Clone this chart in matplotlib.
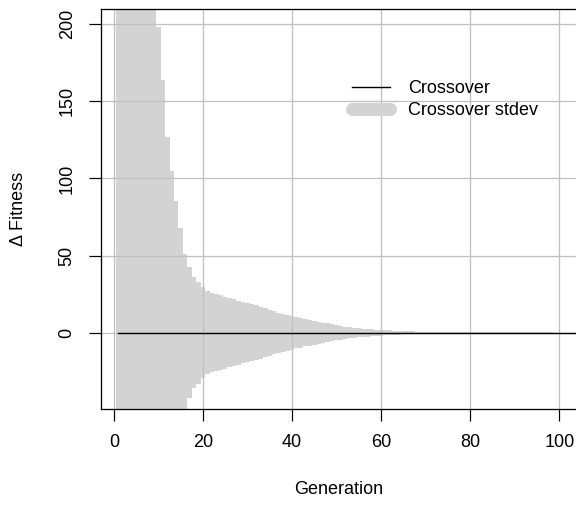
import matplotlib
matplotlib.use("Agg")
import matplotlib.pyplot as plt
from matplotlib.lines import Line2D
import numpy as np

plt.rcParams['font.family'] = ['Liberation Sans', 'DejaVu Sans']

# generations 1..104 (the run goes a little past the 100 shown)
generations = list(range(1, 105))

# mean delta fitness of crossover (flat at zero)
crossover_mean = [
    0.0, 0.0, 0.0, 0.0, 0.0, 0.0, 0.0, 0.0, 0.0, 0.0, 0.0, 0.0, 0.0,
    0.0, 0.0, 0.0, 0.0, 0.0, 0.0, 0.0, 0.0, 0.0, 0.0, 0.0, 0.0, 0.0,
    0.0, 0.0, 0.0, 0.0, 0.0, 0.0, 0.0, 0.0, 0.0, 0.0, 0.0, 0.0, 0.0,
    0.0, 0.0, 0.0, 0.0, 0.0, 0.0, 0.0, 0.0, 0.0, 0.0, 0.0, 0.0, 0.0,
    0.0, 0.0, 0.0, 0.0, 0.0, 0.0, 0.0, 0.0, 0.0, 0.0, 0.0, 0.0, 0.0,
    0.0, 0.0, 0.0, 0.0, 0.0, 0.0, 0.0, 0.0, 0.0, 0.0, 0.0, 0.0, 0.0,
    0.0, 0.0, 0.0, 0.0, 0.0, 0.0, 0.0, 0.0, 0.0, 0.0, 0.0, 0.0, 0.0,
    0.0, 0.0, 0.0, 0.0, 0.0, 0.0, 0.0, 0.0, 0.0, 0.0, 0.0, 0.0, 0.0,
]

# standard deviation per generation
crossover_sd = [
    420, 395, 370, 345, 320, 295, 270, 245, 222, 198,        # 1-10
    164, 127, 105, 85.5, 68, 51, 42.5, 36, 33, 29.5,         # 11-20
    27, 25.6, 25, 24.2, 23.3, 22.5, 21.8, 20.8, 19.8, 19.2,  # 21-30
    18.5, 17.8, 16.8, 15.8, 14.8, 13.8, 13.0, 12.3, 11.6, 10.9,  # 31-40
    10.2, 9.6, 8.9, 8.3, 7.8, 7.2, 6.5, 6.0, 5.4, 4.9,       # 41-50
    4.4, 3.9, 3.5, 3.2, 2.9, 2.7, 2.5, 2.3, 2.1, 1.9,        # 51-60
    1.7, 1.5, 1.3, 1.15, 1.0,                                # 61-65
    0.9, 0.82, 0.75, 0.68, 0.62, 0.57, 0.52, 0.48, 0.45, 0.42,  # 66-75
    0.4, 0.38, 0.36, 0.34, 0.32, 0.3, 0.29, 0.28, 0.27, 0.26,   # 76-85
    0.25, 0.24, 0.23, 0.22, 0.21, 0.2, 0.2, 0.19, 0.19, 0.18,   # 86-95
    0.18, 0.17, 0.17, 0.16, 0.16, 0.15, 0.15, 0.15, 0.14,       # 96-104
]

x_ticks = [0, 20, 40, 60, 80, 100]
y_ticks = [0, 50, 100, 150, 200]

gen = np.array(generations)
mean = np.array(crossover_mean)
sd = np.array(crossover_sd)

fig = plt.figure(figsize=(8, 512 / 72), dpi=72)
ax = fig.add_axes([100.7 / 576, 1 - 409.3 / 512, 476.3 / 576, 400 / 512])

band_col = '#d3d3d3'
ax.bar(gen, 2 * sd, bottom=mean - sd, width=1.0, color=band_col,
       linewidth=0, antialiased=False, zorder=1)

for xv in x_ticks:
    ax.axvline(xv, color='#c0c0c0', lw=1.3, zorder=2)
for yv in y_ticks:
    ax.axhline(yv, color='#c0c0c0', lw=1.3, zorder=2)

ax.plot(gen, mean, color='black', lw=1.4, zorder=3)

ax.set_xlim(-2.96, 103.96)
ax.set_ylim(-49.6, 209.6)
ax.set_xticks(x_ticks)
ax.set_yticks(y_ticks)
ax.tick_params(axis='both', length=12, width=1.2, labelsize=18, direction='out')
ax.tick_params(axis='x', pad=13)
ax.tick_params(axis='y', pad=13, labelrotation=90)
for lab in ax.get_yticklabels():
    lab.set_va('center')

for s in ax.spines.values():
    s.set_linewidth(1.3)
    s.set_color('black')

ax.set_xlabel("Generation", fontsize=18)
ax.xaxis.set_label_coords(0.5, (409.3 - 490) / 400)
ax.xaxis.label.set_va('center')
ax.set_ylabel("Δ Fitness", fontsize=18)
ax.yaxis.set_label_coords((18 - 100.7) / 476.3, 0.5)
ax.yaxis.label.set_va('center')
ax.yaxis.label.set_ha('center')

handles = [Line2D([], [], color='black', lw=1.4),
           Line2D([], [], color=band_col, lw=13, solid_capstyle='round')]
ax.legend(handles, ["Crossover", "Crossover stdev"], frameon=False, fontsize=18,
          loc='upper left', bbox_to_anchor=(352 / 576, 1 - 80 / 512),
          bbox_transform=fig.transFigure, borderpad=0, borderaxespad=0,
          handlelength=2.1, handletextpad=1.0, labelspacing=0.28)

fig.savefig("out.png", dpi=72)
